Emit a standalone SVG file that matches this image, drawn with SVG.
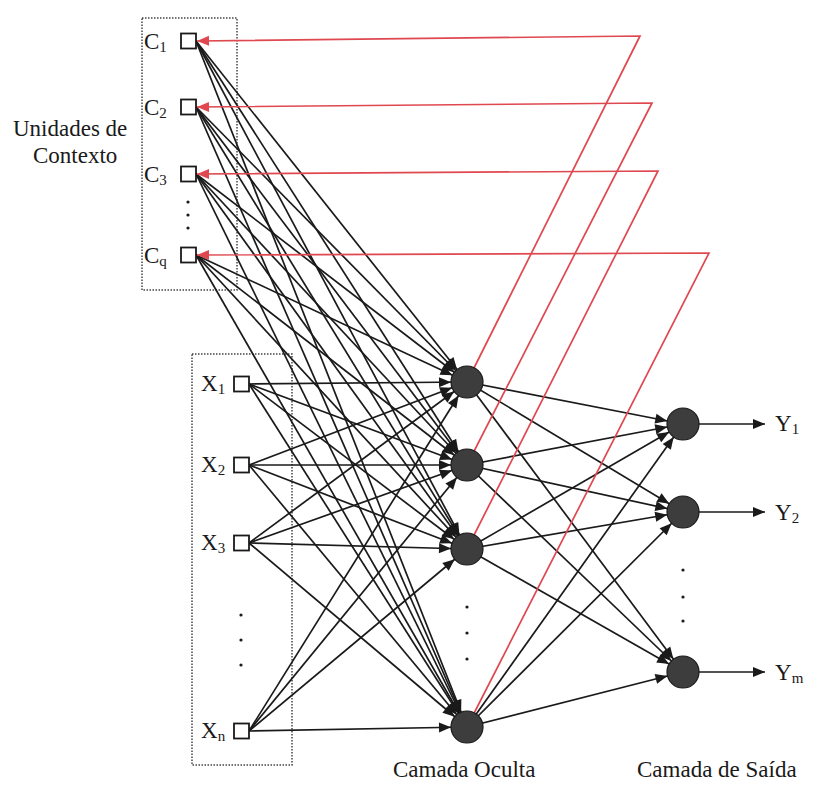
<svg xmlns="http://www.w3.org/2000/svg" width="814" height="785" viewBox="0 0 814 785">
<style>
.t{font-family:"Liberation Serif","Times New Roman",serif;fill:#1a1a1a}
.lab{font-size:23px}
.sym{font-size:23px}
.sub{font-size:15px}
.box{fill:none;stroke:#444;stroke-width:1.5;stroke-dasharray:1.5 1.5}
.sq{fill:#fff;stroke:#1a1a1a;stroke-width:1.8}
.nd{fill:#3d3d3d;stroke:#1a1a1a;stroke-width:1.2}
.bl{stroke:#1a1a1a;stroke-width:1.7;fill:none;marker-end:url(#ah)}
.ol{stroke:#1a1a1a;stroke-width:1.7;fill:none;marker-end:url(#ao)}
.rd{stroke:#e04850;stroke-width:1.7;fill:none;marker-end:url(#ar)}
.dot{fill:#1a1a1a}
</style>
<defs>
<marker id="ah" markerUnits="userSpaceOnUse" markerWidth="40" markerHeight="12" refX="28" refY="5" orient="auto" overflow="visible"><path d="M0,0 L12,5 L0,10 z" fill="#1a1a1a"/></marker>
<marker id="ao" markerUnits="userSpaceOnUse" markerWidth="14" markerHeight="12" refX="12" refY="5" orient="auto" overflow="visible"><path d="M0,0 L12,5 L0,10 z" fill="#1a1a1a"/></marker>
<marker id="ar" markerUnits="userSpaceOnUse" markerWidth="14" markerHeight="12" refX="12" refY="5" orient="auto" overflow="visible"><path d="M0,0 L12,5 L0,10 z" fill="#e04850"/></marker>
</defs>
<rect width="814" height="785" fill="#fff"/>
<g id="boxes">
<rect class="box" x="142" y="18" width="95" height="272"/>
<rect class="box" x="192" y="354" width="100" height="411"/>
</g>
<g id="connectors">
<line class="bl" x1="196" y1="41" x2="467" y2="382"/>
<line class="bl" x1="196" y1="41" x2="467" y2="465"/>
<line class="bl" x1="196" y1="41" x2="467" y2="549"/>
<line class="bl" x1="196" y1="41" x2="467" y2="727"/>
<line class="bl" x1="196" y1="107" x2="467" y2="382"/>
<line class="bl" x1="196" y1="107" x2="467" y2="465"/>
<line class="bl" x1="196" y1="107" x2="467" y2="549"/>
<line class="bl" x1="196" y1="107" x2="467" y2="727"/>
<line class="bl" x1="196" y1="174" x2="467" y2="382"/>
<line class="bl" x1="196" y1="174" x2="467" y2="465"/>
<line class="bl" x1="196" y1="174" x2="467" y2="549"/>
<line class="bl" x1="196" y1="174" x2="467" y2="727"/>
<line class="bl" x1="196" y1="255" x2="467" y2="382"/>
<line class="bl" x1="196" y1="255" x2="467" y2="465"/>
<line class="bl" x1="196" y1="255" x2="467" y2="549"/>
<line class="bl" x1="196" y1="255" x2="467" y2="727"/>
<line class="bl" x1="249" y1="384" x2="467" y2="382"/>
<line class="bl" x1="249" y1="384" x2="467" y2="465"/>
<line class="bl" x1="249" y1="384" x2="467" y2="549"/>
<line class="bl" x1="249" y1="384" x2="467" y2="727"/>
<line class="bl" x1="249" y1="465" x2="467" y2="382"/>
<line class="bl" x1="249" y1="465" x2="467" y2="465"/>
<line class="bl" x1="249" y1="465" x2="467" y2="549"/>
<line class="bl" x1="249" y1="465" x2="467" y2="727"/>
<line class="bl" x1="249" y1="543" x2="467" y2="382"/>
<line class="bl" x1="249" y1="543" x2="467" y2="465"/>
<line class="bl" x1="249" y1="543" x2="467" y2="549"/>
<line class="bl" x1="249" y1="543" x2="467" y2="727"/>
<line class="bl" x1="249" y1="731" x2="467" y2="382"/>
<line class="bl" x1="249" y1="731" x2="467" y2="465"/>
<line class="bl" x1="249" y1="731" x2="467" y2="549"/>
<line class="bl" x1="249" y1="731" x2="467" y2="727"/>
<line class="bl" x1="467" y1="382" x2="683" y2="424"/>
<line class="bl" x1="467" y1="382" x2="683" y2="512"/>
<line class="bl" x1="467" y1="382" x2="683" y2="672"/>
<line class="bl" x1="467" y1="465" x2="683" y2="424"/>
<line class="bl" x1="467" y1="465" x2="683" y2="512"/>
<line class="bl" x1="467" y1="465" x2="683" y2="672"/>
<line class="bl" x1="467" y1="549" x2="683" y2="424"/>
<line class="bl" x1="467" y1="549" x2="683" y2="512"/>
<line class="bl" x1="467" y1="549" x2="683" y2="672"/>
<line class="bl" x1="467" y1="727" x2="683" y2="424"/>
<line class="bl" x1="467" y1="727" x2="683" y2="512"/>
<line class="bl" x1="467" y1="727" x2="683" y2="672"/>
<line class="ol" x1="699" y1="424" x2="765" y2="424"/>
<line class="ol" x1="699" y1="512" x2="765" y2="512"/>
<line class="ol" x1="699" y1="672" x2="765" y2="672"/>
<polyline class="rd" points="467,382 640,36 197,41"/>
<polyline class="rd" points="467,465 652,103 197,107"/>
<polyline class="rd" points="467,549 658,171 197,174"/>
<polyline class="rd" points="467,727 709,253 197,255"/>
</g>
<g id="C1"><rect class="sq" x="181" y="33.5" width="15" height="15"/><text class="t sym" x="144" y="49">C<tspan class="sub" dy="3">1</tspan></text></g>
<g id="C2"><rect class="sq" x="181" y="99.5" width="15" height="15"/><text class="t sym" x="144" y="115">C<tspan class="sub" dy="3">2</tspan></text></g>
<g id="C3"><rect class="sq" x="181" y="166.5" width="15" height="15"/><text class="t sym" x="144" y="182">C<tspan class="sub" dy="3">3</tspan></text></g>
<g id="Cdots"><circle class="dot" cx="188" cy="202" r="1.6"/><circle class="dot" cx="188" cy="215" r="1.6"/><circle class="dot" cx="188" cy="228" r="1.6"/></g>
<g id="Cq"><rect class="sq" x="181" y="247.5" width="15" height="15"/><text class="t sym" x="144" y="263">C<tspan class="sub" dy="3">q</tspan></text></g>
<g id="X1"><rect class="sq" x="234" y="376.5" width="15" height="15"/><text class="t sym" x="201" y="391">X<tspan class="sub" dy="3">1</tspan></text></g>
<g id="X2"><rect class="sq" x="234" y="457.5" width="15" height="15"/><text class="t sym" x="201" y="472">X<tspan class="sub" dy="3">2</tspan></text></g>
<g id="X3"><rect class="sq" x="234" y="535.5" width="15" height="15"/><text class="t sym" x="201" y="550">X<tspan class="sub" dy="3">3</tspan></text></g>
<g id="Xdots"><circle class="dot" cx="241" cy="615" r="1.6"/><circle class="dot" cx="241" cy="640" r="1.6"/><circle class="dot" cx="241" cy="665" r="1.6"/></g>
<g id="Xn"><rect class="sq" x="234" y="723.5" width="15" height="15"/><text class="t sym" x="201" y="738">X<tspan class="sub" dy="3">n</tspan></text></g>
<g id="H1"><circle class="nd" cx="467" cy="382" r="16"/></g>
<g id="H2"><circle class="nd" cx="467" cy="465" r="16"/></g>
<g id="H3"><circle class="nd" cx="467" cy="549" r="16"/></g>
<g id="Hdots"><circle class="dot" cx="467" cy="607" r="1.6"/><circle class="dot" cx="467" cy="633" r="1.6"/><circle class="dot" cx="467" cy="659" r="1.6"/></g>
<g id="H4"><circle class="nd" cx="467" cy="727" r="16"/></g>
<g id="O1"><circle class="nd" cx="683" cy="424" r="16"/><text class="t sym" x="775" y="431">Y<tspan class="sub" dy="3">1</tspan></text></g>
<g id="O2"><circle class="nd" cx="683" cy="512" r="16"/><text class="t sym" x="775" y="520">Y<tspan class="sub" dy="3">2</tspan></text></g>
<g id="Odots"><circle class="dot" cx="683" cy="570" r="1.6"/><circle class="dot" cx="683" cy="597" r="1.6"/><circle class="dot" cx="683" cy="621" r="1.6"/></g>
<g id="Om"><circle class="nd" cx="683" cy="672" r="16"/><text class="t sym" x="775" y="680">Y<tspan class="sub" dy="3">m</tspan></text></g>
<g id="labels">
<text class="t lab" x="13" y="136">Unidades de</text>
<text class="t lab" x="33" y="163">Contexto</text>
<text class="t lab" x="393" y="777">Camada Oculta</text>
<text class="t lab" x="637" y="777">Camada de Saída</text>
</g>
</svg>
